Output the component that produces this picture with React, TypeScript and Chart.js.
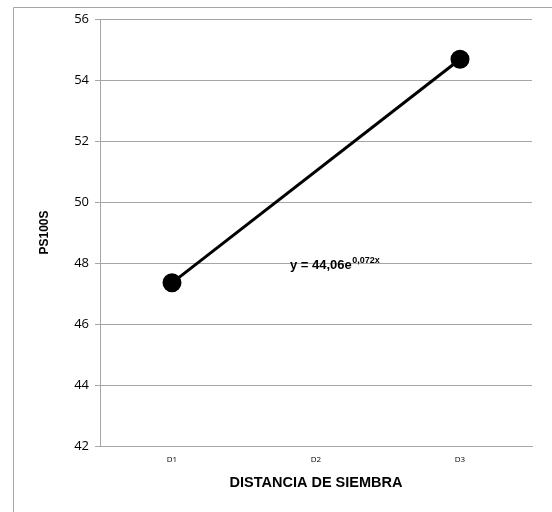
import React, { useEffect, useRef } from "react";
import { Chart, registerables } from "chart.js";

Chart.register(...registerables);

const categories = ["D1", "D2", "D3"];
const ps100sValues: (number | null)[] = [47.35, null, 54.68];
const yMin = 42;
const yMax = 56;
const yStep = 2;
const xTitle = "DISTANCIA DE SIEMBRA";
const yTitle = "PS100S";
const eqMain = "y = 44,06e";
const eqSup = "0,072x";

const frameAndEquation = {
  id: "frameAndEquation",
  afterDraw(chart: any) {
    const ctx = chart.ctx;
    ctx.save();
    ctx.strokeStyle = "#a6a6a6";
    ctx.lineWidth = 1;
    ctx.beginPath();
    ctx.moveTo(13.5, 512);
    ctx.lineTo(13.5, 7.5);
    ctx.lineTo(552, 7.5);
    ctx.stroke();

    const xs = chart.scales.x;
    const ys = chart.scales.y;
    const x0 = xs.getPixelForValue(1) - 26;
    const y0 = ys.getPixelForValue(48) + 6;
    ctx.fillStyle = "#000";
    ctx.textBaseline = "alphabetic";
    ctx.textAlign = "left";
    ctx.font = "bold 13px 'Liberation Sans', Arial, sans-serif";
    ctx.fillText(eqMain, x0, y0);
    const w = ctx.measureText(eqMain).width;
    ctx.font = "bold 9px 'Liberation Sans', Arial, sans-serif";
    ctx.fillText(eqSup, x0 + w + 0.5, y0 - 6);
    ctx.restore();
  },
};

export default function App() {
  const ref = useRef<HTMLCanvasElement>(null);
  useEffect(() => {
    document.body.style.margin = "0";
    const chart = new Chart(ref.current!, {
      type: "line",
      data: {
        labels: categories,
        datasets: [
          {
            data: ps100sValues,
            borderColor: "#000",
            backgroundColor: "#000",
            borderWidth: 3,
            pointRadius: 8,
            pointHoverRadius: 8,
            pointBackgroundColor: "#000",
            pointBorderColor: "#000",
            spanGaps: true,
            tension: 0,
          },
        ],
      },
      options: {
        animation: false,
        responsive: false,
        devicePixelRatio: 1,
        layout: { padding: { left: 0, top: 19, right: 20, bottom: 0 } },
        plugins: { legend: { display: false }, tooltip: { enabled: false } },
        scales: {
          x: {
            offset: true,
            grid: { display: false, drawTicks: false },
            border: { display: true, color: "#a6a6a6", width: 1 },
            ticks: {
              color: "#000",
              padding: 9,
              font: { family: "'Open Sans', sans-serif", size: 8 },
            },
            title: {
              display: true,
              text: xTitle,
              color: "#000",
              font: { family: "'Liberation Sans', Arial, sans-serif", size: 14.5, weight: "bold" },
              padding: { top: 0, bottom: 20 },
            },
            afterFit: (s: any) => {
              s.height = 66;
            },
          },
          y: {
            min: yMin,
            max: yMax,
            grid: { color: "#a6a6a6", lineWidth: 1, drawTicks: true, tickLength: 5 },
            border: { display: true, color: "#a6a6a6", width: 1 },
            ticks: {
              stepSize: yStep,
              color: "#000",
              padding: 6,
              font: { family: "'Open Sans', sans-serif", size: 13 },
            },
            title: {
              display: true,
              text: yTitle,
              color: "#000",
              font: { family: "'Liberation Sans', Arial, sans-serif", size: 12, weight: "bold" },
              padding: { top: 37, bottom: 0 },
            },
            afterFit: (s: any) => {
              s.width = 100;
            },
          },
        },
      },
      plugins: [frameAndEquation],
    });
    return () => chart.destroy();
  }, []);
  return (
    <div style={{ width: 552, height: 512, background: "#fff" }}>
      <canvas ref={ref} width={552} height={512} />
    </div>
  );
}
